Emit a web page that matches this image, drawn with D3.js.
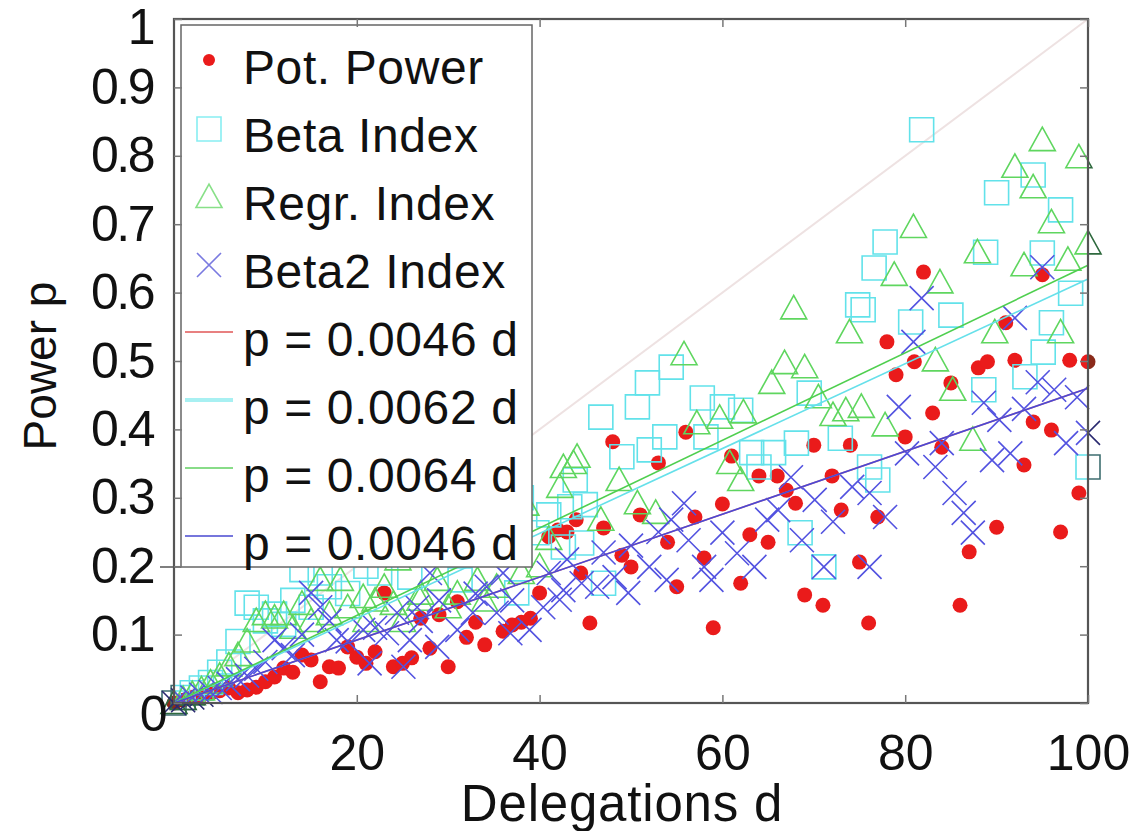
<!DOCTYPE html>
<meta charset="utf-8">
<style>
body { margin: 0; background: #fff; }
text { font-family: "Liberation Sans", Arial, Helvetica, sans-serif; fill: #111; }
</style>
<svg width="1134" height="831"></svg>
<script src="https://cdn.jsdelivr.net/npm/d3@7/dist/d3.min.js"></script>
<script>

// values, [d, p]
var potPower = [[0,0],[1,.004],[2,.008],[3,.011],[4,.014],[5,.018],[6,.022],[7,.015],[8,.019],[9,.023],[10,.031],
  [11,.038],[12,.051],[13,.045],[14,.07],[15,.063],[16,.031],[17,.053],[18,.051],[19,.082],[20,.067],
  [21,.058],[22,.075],[23,.161],[24,.053],[25,.058],[26,.066],[27,.124],[28,.08],[29,.129],[30,.053],
  [31,.148],[32,.096],[33,.118],[34,.085],[36,.105],[37,.114],[38,.118],[39,.124],[40,.161],[41,.243],
  [42,.253],[43,.25],[44,.268],[44.5,.19],[45.5,.117],[47,.256],[48,.382],[49,.216],[50,.199],[51,.275],
  [53,.351],[54,.235],[55,.17],[56,.396],[57,.272],[58,.212],[59,.11],[60,.291],[61,.361],[62,.175],
  [63,.246],[64,.332],[65,.235],[66,.332],[67,.311],[68,.292],[69,.158],[70,.377],[71,.143],[72,.332],
  [73,.282],[74,.377],[75,.206],[76,.117],[77,.272],[78,.528],[79,.48],[80,.389],[81,.499],[82,.63],
  [83,.424],[84,.374],[85,.468],[86,.143],[87,.221],[88,.49],[89,.499],[90,.257],[91,.556],[92,.501],
  [93,.348],[94,.411],[95,.626],[96,.399],[97,.25],[98,.501],[99,.307],[100,.499]];

var betaIndex = [[0,0],[1,.008],[2,.015],[3,.022],[4,.03],[5,.045],[6,.06],[7,.09],[8,.146],[9,.14],[10,.12],
  [11,.13],[12,.115],[13,.15],[14,.195],[15,.14],[16,.19],[17,.17],[18,.22],[19,.16],[20,.25],[21,.2],
  [22.5,.19],[23,.28],[25.8,.184],[26,.3],[27,.22],[29,.31],[30,.24],[31.3,.18],[32,.3],[33,.27],[34,.33],
  [35,.25],[36,.29],[37.5,.161],[38,.3],[39.7,.249],[41,.275],[42.6,.228],[43.3,.287],[43.9,.326],[44.6,.234],
  [45,.29],[46.7,.418],[47,.175],[49,.36],[50.7,.433],[51.8,.468],[52,.37],[53.7,.389],[54.4,.491],
  [57.8,.446],[58.2,.389],[60,.433],[62,.428],[63.2,.366],[64,.345],[65.6,.366],[68.1,.38],[68.5,.249],
  [69.5,.453],[71.1,.199],[72.9,.387],[74.8,.582],[75.4,.575],[76.1,.345],[76.6,.636],[77,.326],[77.8,.674],
  [80.6,.557],[81.8,.838],[85,.567],[88.6,.458],[88.8,.659],[90,.746],[93.1,.477],[94,.772],[95,.658],
  [95.1,.513],[96,.556],[97,.721],[98.1,.599],[100,.345]];

var regrIndex = [[0,0],[1,.006],[2,.013],[3,.02],[4,.03],[5,.04],[6,.055],[7,.07],[8,.09],[9,.12],[10,.13],
  [11,.125],[12,.13],[13,.11],[14,.145],[15,.12],[16,.18],[17,.13],[18.2,.18],[19,.14],[19.5,.22],[20.7,.155],
  [21,.12],[22,.15],[22.5,.25],[23,.17],[24,.145],[24.5,.21],[25,.12],[25.5,.27],[26.9,.151],[27,.16],
  [28,.24],[28.8,.18],[30,.14],[30.5,.28],[31,.16],[32,.3],[33.2,.18],[34,.15],[34.5,.26],[35.3,.17],
  [36,.3],[37,.23],[38,.19],[38.5,.29],[40,.2],[41,.24],[42.2,.316],[42.6,.345],[43.7,.351],[44.1,.36],
  [46.7,.268],[48.7,.326],[50.7,.292],[52.7,.278],[55.8,.51],[57.2,.409],[59.7,.417],[60.8,.351],[62,.326],
  [62.3,.425],[65.4,.468],[66.8,.497],[67.8,.577],[69,.491],[70.5,.447],[72.1,.421],[73.5,.428],[73.9,.542],
  [75.2,.433],[77.8,.406],[78.8,.626],[80.9,.696],[83.3,.501],[83.8,.615],[85.2,.458],[87.4,.385],[87.9,.659],
  [89.8,.542],[92,.784],[93,.64],[94,.754],[95,.823],[96,.703],[97,.542],[97.8,.648],[99,.798],[100,.672]];

var beta2Index = [[0,0],[1,.004],[2,.008],[3,.012],[4,.016],[5,.022],[6,.028],[7,.035],[8,.04],[9,.05],[10,.06],
  [11,.092],[12,.08],[13,.07],[14,.1],[15,.161],[16,.14],[17,.12],[17.8,.092],[19,.09],[20.7,.107],[21.4,.058],
  [22,.11],[23.3,.102],[24.4,.132],[25.1,.053],[25.8,.092],[26.6,.14],[27,.12],[28,.19],[28.8,.082],[29,.15],
  [31,.107],[32.7,.132],[33,.16],[34.2,.17],[35.3,.132],[36,.19],[36.8,.102],[37,.15],[38.9,.107],[40.4,.14],
  [41,.19],[42.2,.151],[42.6,.165],[43,.21],[44.6,.175],[46.3,.17],[47,.22],[48.2,.184],[49.7,.161],[50,.23],
  [52,.199],[53,.25],[53.9,.18],[54.4,.268],[55.8,.292],[56.3,.238],[58,.199],[58.8,.18],[60,.249],[61.6,.219],
  [63.5,.199],[64.9,.268],[66.1,.282],[67.5,.33],[68.7,.238],[70.1,.297],[71.1,.199],[72.1,.265],[74.2,.316],
  [76.1,.307],[76.1,.199],[77.8,.272],[79.3,.433],[80.2,.365],[80.9,.528],[81.8,.592],[83.3,.345],[84,.38],
  [85.4,.307],[86.4,.278],[87.4,.249],[88.6,.439],[89.5,.355],[90.3,.414],[91.5,.365],[92,.563],[93,.43],
  [94.5,.469],[95,.637],[96.3,.458],[97.6,.38],[98.8,.447],[100,.395]];

var seriesNames = ["Pot. Power", "Beta Index", "Regr. Index", "Beta2 Index"];
var fitSlopes = [0.0046, 0.0062, 0.0064, 0.0046];
var fitLabels = ["p = 0.0046 d", "p = 0.0062 d", "p = 0.0064 d", "p = 0.0046 d"];
var diagonal = [[0, 0], [100, 1]];
var xTicks = [20, 40, 60, 80, 100];
var yTicks = [0, 0.1, 0.2, 0.3, 0.4, 0.5, 0.6, 0.7, 0.8, 0.9, 1];

var L = 174, R = 1088, T = 19, B = 703;
var x = d3.scaleLinear().domain([0, 100]).range([L, R]);
var y = d3.scaleLinear().domain([0, 1]).range([B, T]);

var light = ["#ea1b1b", "#62e2ea", "#5fd65f", "#5252e0"];
var dark  = ["#8a2a1a", "#3e6e70", "#2f6a3e", "#2a2a70"];
var fitColors = ["#e07272", "#66e0ea", "#4fcf4f", "#4a48d6"];

function square(s) { var h = s / 2; return "M" + -h + "," + -h + "H" + h + "V" + h + "H" + -h + "Z"; }
function triangle(s) { var h = s * 0.45; return "M0," + (-h * 1.1) + "L" + (s / 2) + "," + (h * 0.9) + "L" + (-s / 2) + "," + (h * 0.9) + "Z"; }
function cross(s) { var h = s / 2; return "M" + -h + "," + -h + "L" + h + "," + h + "M" + -h + "," + h + "L" + h + "," + -h; }

var svg = d3.select("svg");
var defs = svg.append("defs");
defs.append("clipPath").attr("id", "inside")
  .append("rect").attr("x", L).attr("y", T).attr("width", R - L).attr("height", B - T);
defs.append("clipPath").attr("id", "outside")
  .append("path").attr("clip-rule", "evenodd")
  .attr("d", "M0,0H1134V831H0Z M" + L + "," + T + "V" + B + "H" + R + "V" + T + "Z");

// reference diagonal p = d / 100
svg.append("path").datum(diagonal)
  .attr("d", d3.line().x(function(d) { return x(d[0]); }).y(function(d) { return y(d[1]); }))
  .attr("fill", "none").attr("stroke", "#eee2e2").attr("stroke-width", 2);

var allSeries = [potPower, betaIndex, regrIndex, beta2Index];
var shapes = [null, square(24), triangle(26), cross(24)];

["outside", "inside"].forEach(function(clip) {
  var g = svg.append("g").attr("clip-path", "url(#" + clip + ")");
  var col = clip == "inside" ? light : dark;

  g.selectAll("circle").data(potPower).enter().append("circle")
    .attr("cx", function(d) { return x(d[0]); })
    .attr("cy", function(d) { return y(d[1]); })
    .attr("r", 7.5)
    .attr("fill", col[0]);

  for (var k = 1; k < 4; k++) {
    g.append("g").selectAll("path").data(allSeries[k]).enter().append("path")
      .attr("transform", function(d) { return "translate(" + x(d[0]) + "," + y(d[1]) + ")"; })
      .attr("d", shapes[k])
      .attr("fill", "none")
      .attr("stroke", col[k])
      .attr("stroke-width", 1.6);
  }
});

// fitted lines
svg.append("g").selectAll("line").data(fitSlopes).enter().append("line")
  .attr("x1", x(0)).attr("y1", y(0))
  .attr("x2", x(100)).attr("y2", function(s) { return y(s * 100); })
  .attr("stroke", function(s, i) { return fitColors[i]; })
  .attr("stroke-width", 1.6);

// legend
var lg = svg.append("g");
lg.append("rect").attr("x", 181).attr("y", 25).attr("width", 351).attr("height", 542)
  .attr("fill", "#fff").attr("stroke", "#666").attr("stroke-width", 1.5);
lg.append("line").attr("x1", 160).attr("x2", 181).attr("y1", 567).attr("y2", 567)
  .attr("stroke", "#555").attr("stroke-width", 1.5);

var rowY = function(i) { return 84 + 68 * i; };
var labels = seriesNames.concat(fitLabels);
lg.selectAll("text").data(labels).enter().append("text")
  .attr("x", 243).attr("y", function(d, i) { return rowY(i); })
  .style("font-size", "48px").style("letter-spacing", "0.6px")
  .text(function(d) { return d; });

lg.append("circle").attr("cx", 209).attr("cy", rowY(0) - 24).attr("r", 6).attr("fill", light[0]);
for (var k = 1; k < 4; k++) {
  lg.append("path").attr("transform", "translate(209," + (rowY(k) - 23) + ")")
    .attr("d", shapes[k]).attr("fill", "none")
    .attr("stroke", k == 1 ? "#88eef2" : k == 2 ? "#88e088" : "#7a7ae0").attr("stroke-width", 1.6);
}
var legendLineCol = ["#e88080", "#a8f0f2", "#88dc88", "#7676dc"];
fitLabels.forEach(function(t, i) {
  lg.append("line").attr("x1", 185).attr("x2", 233)
    .attr("y1", rowY(i + 4) - 24).attr("y2", rowY(i + 4) - 24)
    .attr("stroke", legendLineCol[i]).attr("stroke-width", i == 1 ? 4 : 2);
});

// frame and axes
svg.append("rect").attr("x", L).attr("y", T).attr("width", R - L).attr("height", B - T)
  .attr("fill", "none").attr("stroke", "#555").attr("stroke-width", 2.2);

function styleAxis(size) {
  return function(g) {
    g.select(".domain").remove();
    g.selectAll(".tick line").attr("stroke", "#777").attr("stroke-width", 1.5);
    g.selectAll(".tick text").style("font-size", size + "px").attr("fill", "#111")
      .style("font-family", "'Liberation Sans', Arial, sans-serif");
  };
}

svg.append("g").attr("transform", "translate(0," + B + ")")
  .call(d3.axisBottom(x).tickValues(xTicks).tickSizeInner(-8).tickSizeOuter(0).tickPadding(31)
    .tickFormat(d3.format("d")))
  .call(styleAxis(50));
svg.append("g").attr("transform", "translate(0," + T + ")")
  .call(d3.axisTop(x).tickValues(xTicks).tickSizeInner(-8).tickSizeOuter(0).tickFormat(""))
  .call(styleAxis(50));

var yFmt = function(v) { return v == 0 ? "0" : v == 1 ? "1" : v.toFixed(1); };
var yAxis = svg.append("g").attr("transform", "translate(" + L + ",0)")
  .call(d3.axisLeft(y).tickValues(yTicks).tickSizeInner(-8).tickSizeOuter(0).tickPadding(21).tickFormat(yFmt))
  .call(styleAxis(50));
yAxis.selectAll(".tick text").style("letter-spacing", "-2.5px");
yAxis.selectAll(".tick text").filter(function(v) { return v == 0; })
  .attr("dx", 12).attr("dy", "0.55em");
yAxis.selectAll(".tick text").filter(function(v) { return v == 1; })
  .attr("dy", "0.48em");
svg.append("g").attr("transform", "translate(" + R + ",0)")
  .call(d3.axisRight(y).tickValues(yTicks).tickSizeInner(-8).tickSizeOuter(0).tickFormat(""))
  .call(styleAxis(50));

svg.append("text").attr("x", 622).attr("y", 821).attr("text-anchor", "middle")
  .style("font-size", "51px").style("letter-spacing", "0.8px").text("Delegations d");
svg.append("text").attr("transform", "translate(56,366) rotate(-90)").attr("text-anchor", "middle")
  .style("font-size", "46px").text("Power p");

</script>
